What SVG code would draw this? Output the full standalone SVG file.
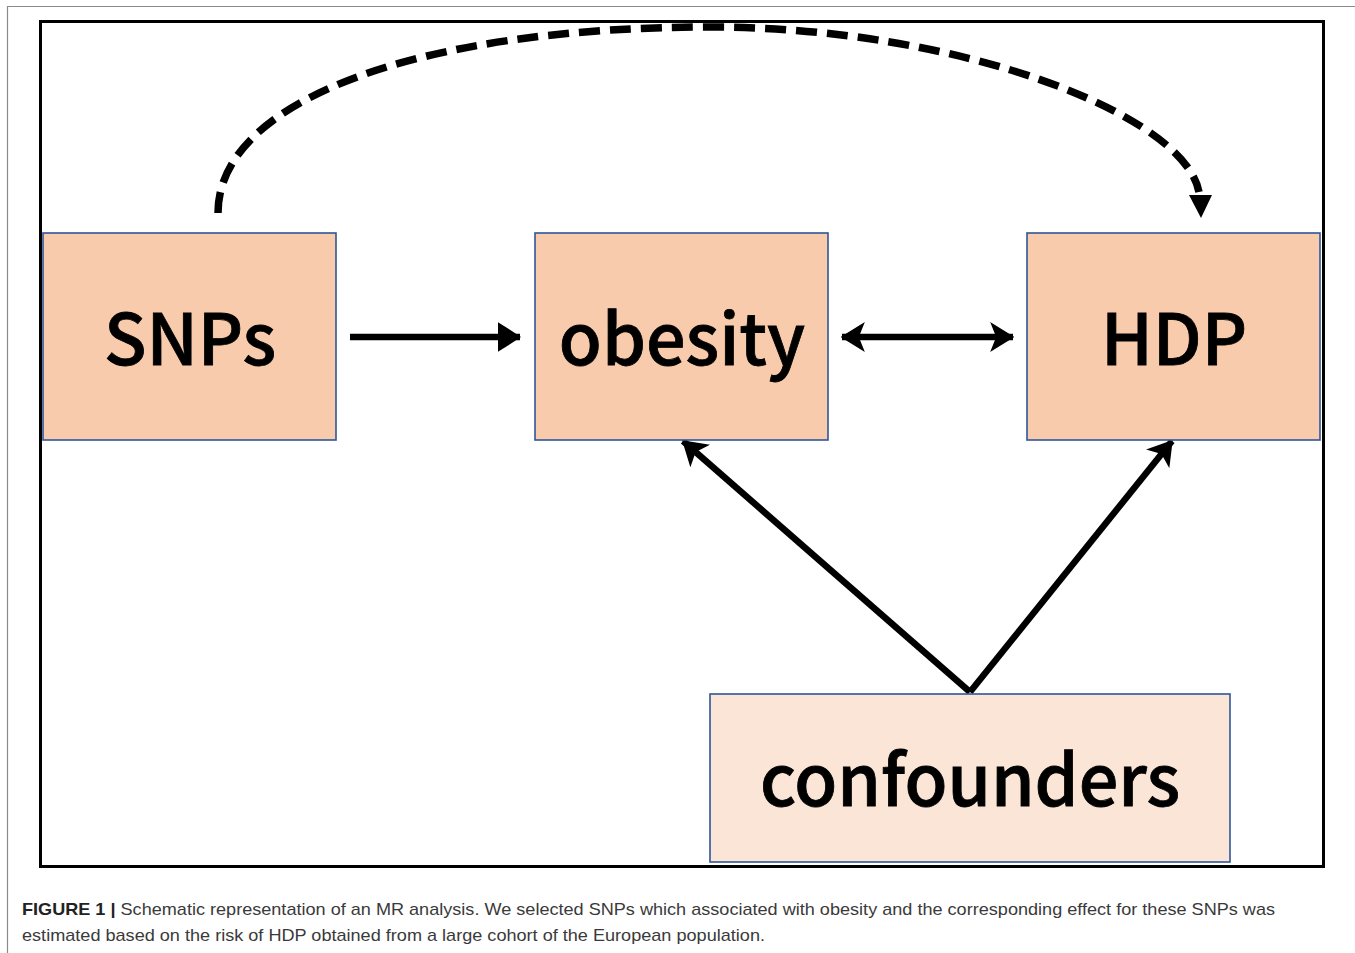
<svg xmlns="http://www.w3.org/2000/svg" width="1355" height="953" viewBox="0 0 1355 953">
<defs>
<style>
.box{fill:#F8CBAD;stroke:#2F5597;stroke-width:1.6}
.box2{fill:#FBE5D6;stroke:#2F5597;stroke-width:1.6}
.lbl{font-family:"Noto Sans CJK SC","Noto Sans",sans-serif;font-weight:500;font-size:70px;fill:#000;stroke:#000;stroke-width:0.8;text-anchor:middle}
.edge{stroke:#000;stroke-width:6.5;fill:none}
.cap{font-family:"Liberation Sans",Arial,sans-serif;font-size:17px;fill:#3a3a3a}
</style>
<marker id="ah" viewBox="0 0 10 10" refX="9.5" refY="5" markerWidth="3.6" markerHeight="4.6" markerUnits="strokeWidth" orient="auto-start-reverse" preserveAspectRatio="none">
<path d="M0,0 L10,5 L0,10 Z" fill="#000"/>
</marker>
<marker id="as" viewBox="0 0 10 10" refX="9.5" refY="5" markerWidth="3.7" markerHeight="4.6" markerUnits="strokeWidth" orient="auto-start-reverse" preserveAspectRatio="none">
<path d="M0,0 L10,5 L0,10 L2.5,5 Z" fill="#000"/>
</marker>
</defs>
<rect width="1355" height="953" fill="#fff"/>
<path d="M7.5,953 V6.5 H1355" fill="none" stroke="#8a8a8a" stroke-width="1.2"/>
<rect x="40.5" y="21.5" width="1283" height="845" fill="none" stroke="#000" stroke-width="3"/>
<g id="connectors">
<line class="edge" x1="350" y1="337" x2="520" y2="337" marker-end="url(#ah)"/>
<line class="edge" x1="842" y1="337" x2="1013" y2="337" marker-start="url(#as)" marker-end="url(#as)"/>
<line class="edge" x1="970" y1="692" x2="683" y2="441" marker-end="url(#as)"/>
<line class="edge" x1="970" y1="692" x2="1172" y2="441" marker-end="url(#as)"/>
<path d="M218,213 C218,100 420,27 710,27 C960,27 1185,115 1199,192" fill="none" stroke="#000" stroke-width="7.5" stroke-dasharray="21,10"/>
<path d="M1189,195 L1212,195 L1201,218 Z" fill="#000"/>
</g>
<g id="SNPs"><rect class="box" x="43" y="233" width="293" height="207"/><text class="lbl" x="190" y="365">SNPs</text></g>
<g id="obesity"><rect class="box" x="535" y="233" width="293" height="207"/><text class="lbl" x="682" y="365">obesity</text></g>
<g id="HDP"><rect class="box" x="1027" y="233" width="293" height="207"/><text class="lbl" x="1174" y="365">HDP</text></g>
<g id="confounders"><rect class="box2" x="710" y="694" width="520" height="168"/><text class="lbl" x="970" y="806">confounders</text></g>
<g id="caption">
<text class="cap" x="22" y="915" textLength="1253" lengthAdjust="spacingAndGlyphs"><tspan font-weight="bold" fill="#222">FIGURE 1 |</tspan> Schematic representation of an MR analysis. We selected SNPs which associated with obesity and the corresponding effect for these SNPs was</text>
<text class="cap" x="22" y="941" textLength="743" lengthAdjust="spacingAndGlyphs">estimated based on the risk of HDP obtained from a large cohort of the European population.</text>
</g>
</svg>
